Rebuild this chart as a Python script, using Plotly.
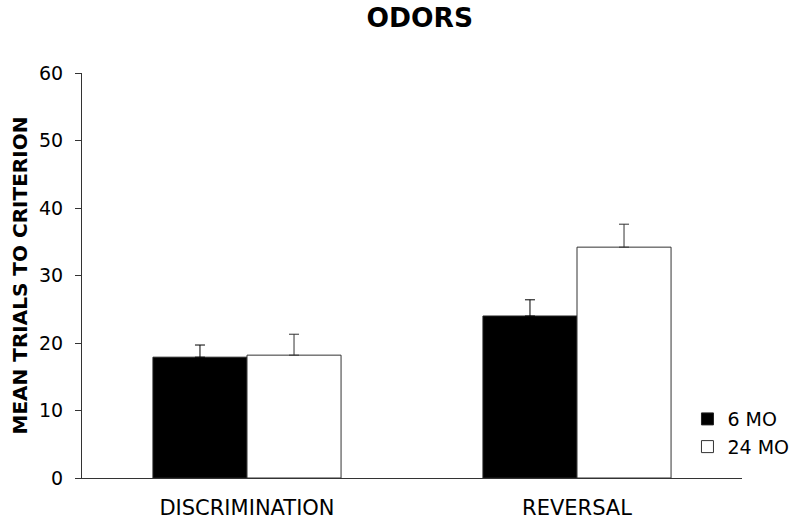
import plotly.graph_objects as go

categories = ["DISCRIMINATION", "REVERSAL"]
mo6_values = [17.9, 24.0]
mo6_errors = [1.8, 2.4]
mo24_values = [18.2, 34.2]
mo24_errors = [3.1, 3.4]
y_ticks = [0, 10, 20, 30, 40, 50, 60]

FONT = "DejaVu Sans, Verdana, sans-serif"

fig = go.Figure()
fig.add_trace(go.Bar(
    name="6 MO", x=categories, y=mo6_values,
    marker=dict(color="black", line=dict(color="#222", width=1)),
    error_y=dict(type="data", array=mo6_errors, arrayminus=[0, 0], symmetric=False,
                 color="black", thickness=1, width=5),
))
fig.add_trace(go.Bar(
    name="24 MO", x=categories, y=mo24_values,
    marker=dict(color="white", line=dict(color="#333", width=1)),
    error_y=dict(type="data", array=mo24_errors, arrayminus=[0, 0], symmetric=False,
                 color="#333", thickness=1, width=5),
))

fig.update_layout(
    width=792, height=525,
    margin=dict(l=82, r=50, t=73, b=47, autoexpand=False),
    paper_bgcolor="white", plot_bgcolor="white",
    barmode="group", bargap=0.43, bargroupgap=0,
    font=dict(family=FONT, size=19, color="black"),
    title=dict(text="<b>ODORS</b>", x=0.530, xanchor="center", y=0.966, yanchor="middle",
               font=dict(family=FONT, size=26.5, color="black")),
    showlegend=True,
    legend=dict(x=0.868, y=0.238, xref="container", yref="container",
                xanchor="left", yanchor="top",
                bgcolor="rgba(0,0,0,0)", font=dict(size=19),
                itemwidth=30, tracegroupgap=0),
    xaxis=dict(showline=True, linecolor="#333", linewidth=1, ticks="",
               tickfont=dict(size=21), showgrid=False, ticklabelstandoff=11,
               automargin=False),
    yaxis=dict(range=[0, 60], tickvals=y_ticks, showline=True, linecolor="#333",
               linewidth=1, ticks="outside", ticklen=6, tickcolor="#333",
               showgrid=False, zeroline=False, tickfont=dict(size=19),
               ticklabelstandoff=8, automargin=False),
    annotations=[dict(text="<b>MEAN TRIALS TO CRITERION</b>", textangle=-90,
                      xref="paper", yref="paper", x=-0.094, y=0.5,
                      xanchor="center", yanchor="middle", showarrow=False,
                      font=dict(size=20))],
)

fig.write_html("out.html", config={"displayModeBar": False},
               post_script="document.body.style.margin='0';")
